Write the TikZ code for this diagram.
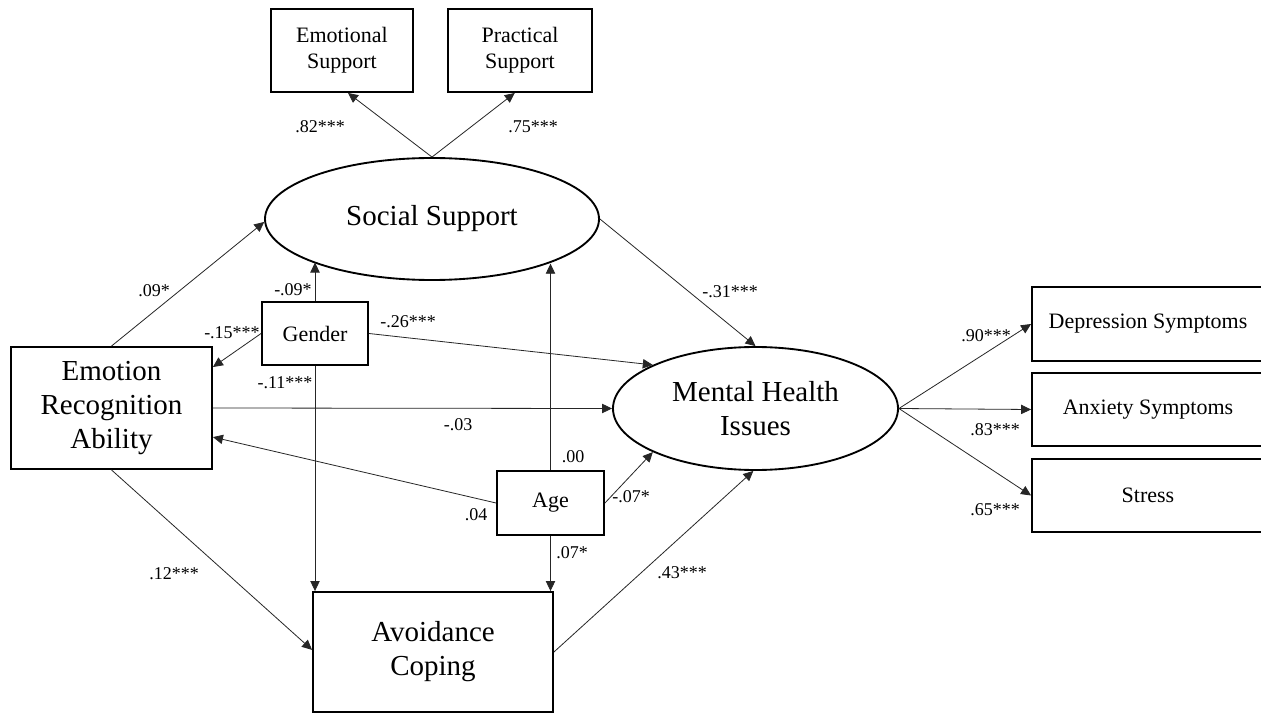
\documentclass[tikz,border=0pt]{standalone}
\usepackage{fontspec}
\setmainfont{Liberation Serif}
\usetikzlibrary{arrows.meta,shapes.geometric,calc}
\begin{document}
\begin{tikzpicture}[x=0.75pt,y=-0.75pt,
  box/.style={draw=black,line width=1.4pt,rectangle,inner sep=0pt,align=center},
  oval/.style={draw=black,line width=1.4pt,ellipse,inner sep=0pt,align=center},
  big/.style={font=\fontsize{21.75}{25.5}\selectfont},
  mid/.style={font=\fontsize{16.5}{19.5}\selectfont},
  lbl/.style={font=\fontsize{13.5}{16}\selectfont,inner sep=0pt},
  arr/.style={draw=black!85,line width=0.6pt,-{Triangle[length=7.5pt,width=7pt]}}]
\clip (0,0) rectangle (1261,713);
\fill[white] (0,0) rectangle (1261,713);
% nodes
\node[oval,big,minimum width=250.5pt,minimum height=91.5pt] (SS) at (432,219) {Social Support};
\node[oval,big,minimum width=213.75pt,minimum height=92.25pt] (MH) at (755.5,408.5) {Mental Health\\Issues};
\node[box,mid,minimum width=106.5pt,minimum height=62.25pt] (EmS) at (342,50.5) {Emotional\\Support};
\node[box,mid,minimum width=108pt,minimum height=62.25pt] (PrS) at (520,50.5) {Practical\\Support};
\node[box,big,minimum width=150.75pt,minimum height=91.5pt] (ERA) at (111.5,408) {Emotion\\Recognition\\Ability};
\node[box,mid,minimum width=79.5pt,minimum height=47.25pt] (Gen) at (315,333.5) {Gender};
\node[box,mid,minimum width=80.25pt,minimum height=48pt] (Age) at (550.5,503) {Age};
\node[box,big,minimum width=180pt,minimum height=90pt] (AC) at (433,652) {Avoidance\\Coping};
\node[box,mid,minimum width=174pt,minimum height=55.5pt] (Dep) at (1148,324) {Depression Symptoms};
\node[box,mid,minimum width=174pt,minimum height=54.75pt] (Anx) at (1148,409.5) {Anxiety Symptoms};
\node[box,mid,minimum width=174pt,minimum height=54.75pt] (Str) at (1148,495.5) {Stress};
% connectors
\draw[arr] (ERA.north) -- (SS.181);
\draw[arr] (Gen.north) -- (Gen.north |- SS.200.6);
\draw[arr] (Age.north) -- (Age.north |- SS.339.9);
\draw[arr] (Gen.west) -- (ERA.22);
\draw[arr] (Gen.east) -- (MH.157.5);
\draw[arr] (Gen.south) -- (Gen.south |- AC.north);
\draw[arr] (ERA.east) -- (MH.west);
\draw[arr] (Age.west) -- (ERA.344.4);
\draw[arr] (Age.east) -- (MH.203.9);
\draw[arr] (Age.south) -- (Age.south |- AC.north);
\draw[arr] (ERA.south) -- (AC.179);
\draw[arr] (AC.east) -- (MH.268);
\draw[arr] (SS.east) -- (MH.north);
\draw[arr] (MH.east) -- (Dep.west);
\draw[arr] (MH.east) -- (Anx.west);
\draw[arr] (MH.east) -- (Str.west);
\draw[arr] (SS.north) -- (EmS.278.2);
\draw[arr] (SS.north) -- (PrS.263.1);
% labels
\node[lbl] (l82) at (320,127) {.82***};
\node[lbl] (l75) at (533,127) {.75***};
\node[lbl] (l09) at (154,291) {.09*};
\node[lbl] (lg09) at (293,290) {-.09*};
\node[lbl] (l15) at (232,333) {-.15***};
\node[lbl] (l26) at (408,322) {-.26***};
\node[lbl] (l11) at (285,383) {-.11***};
\node[lbl] (l03) at (458,425) {-.03};
\node[lbl] (l04) at (476,515) {.04};
\node[lbl] (l00) at (573,457) {.00};
\node[lbl] (la07) at (631,497) {-.07*};
\node[lbl] (lb07) at (572,553) {.07*};
\node[lbl] (l12) at (174,574) {.12***};
\node[lbl] (l43) at (682,573) {.43***};
\node[lbl] (l31) at (730,292) {-.31***};
\node[lbl] (l90) at (986,336) {.90***};
\node[lbl] (l83) at (995,430) {.83***};
\node[lbl] (l65) at (995,510) {.65***};
\end{tikzpicture}
\end{document}
